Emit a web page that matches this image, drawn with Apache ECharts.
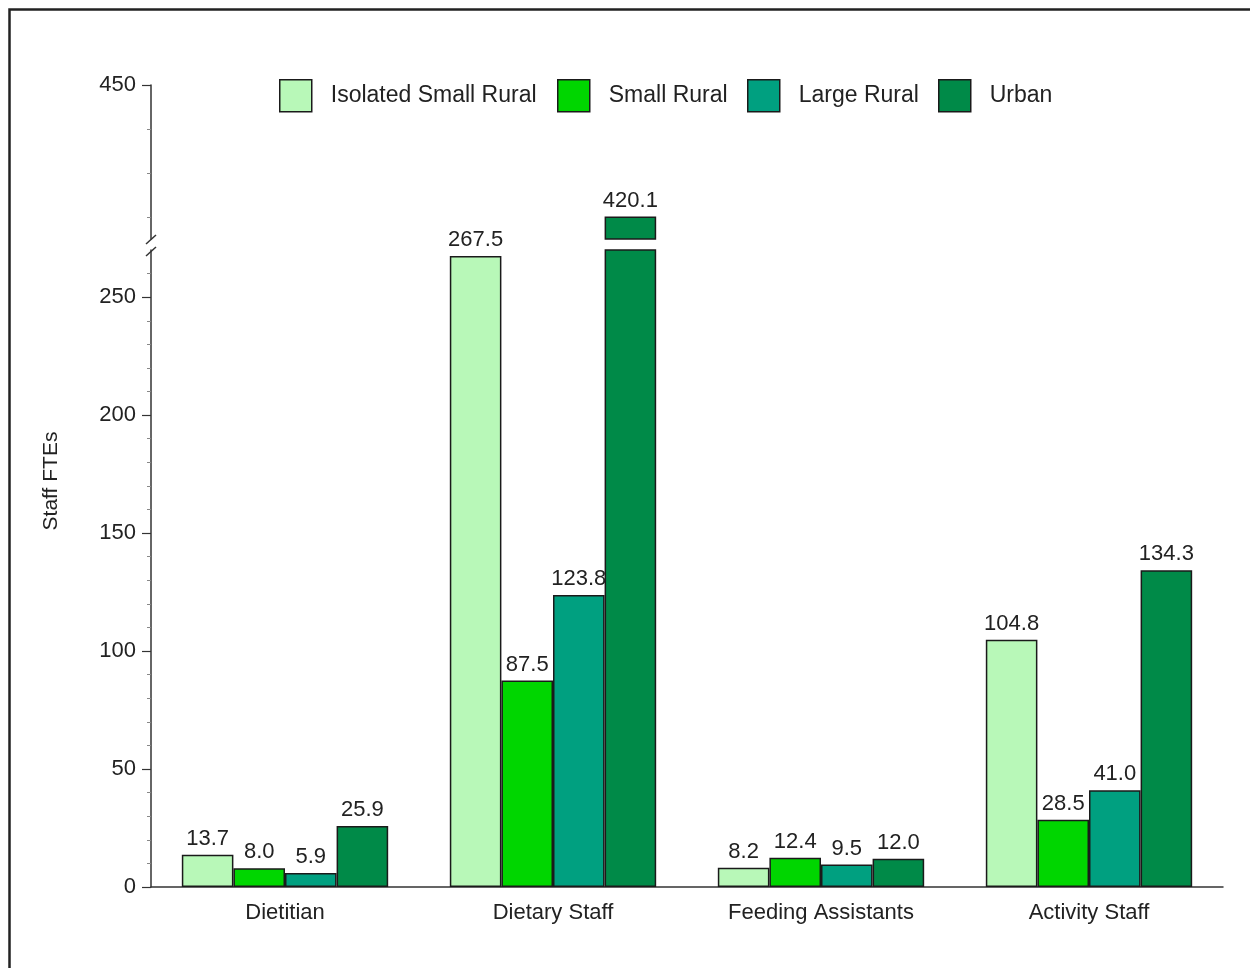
<!DOCTYPE html>
<html>
<head>
<meta charset="utf-8">
<script src="https://cdn.jsdelivr.net/npm/echarts@6/dist/echarts.min.js"></script>
<style>
html,body{margin:0;padding:0;background:#fff;}
#chart{width:1250px;height:968px;}
</style>
</head>
<body>
<div id="chart"></div>
<script>
// ---- data ----
const categories = ['Dietitian', 'Dietary Staff', 'Feeding Assistants', 'Activity Staff'];
const seriesNames = ['Isolated Small Rural', 'Small Rural', 'Large Rural', 'Urban'];
const isolatedSmallRural = [13.7, 267.5, 8.2, 104.8];
const smallRural = [8.0, 87.5, 12.4, 28.5];
const largeRural = [5.9, 123.8, 9.5, 41.0];
const urban = [25.9, 420.1, 12.0, 134.3];
// axis segments (broken axis)
const lowerMin = 0, lowerMax = 270;
const upperMin = 415, upperMax = 450;
const lowerMajorTicks = [0, 50, 100, 150, 200, 250];
const lowerMinorTicks = [10, 20, 30, 40, 60, 70, 80, 90, 110, 120, 130, 140, 160, 170, 180, 190, 210, 220, 230, 240, 260];
const upperMajorTicks = [450];
const upperMinorTicks = [420, 430, 440];

const colors = ['#b8f8b8', '#00d600', '#00a080', '#008a48'];
const allValues = [isolatedSmallRural, smallRural, largeRural, urban];

const FONT = 'Liberation Sans, Arial, sans-serif';
const TXT = '#222';
const AX = '#333';

const chart = echarts.init(document.getElementById('chart'), null, {renderer: 'canvas'});

const gridLeft = 151, gridRight = 27;
const series = [];
allValues.forEach((vals, i) => {
  // lower segment
  series.push({
    type: 'bar', name: seriesNames[i], xAxisIndex: 1, yAxisIndex: 2,
    barGap: '0%', barCategoryGap: '23%',
    itemStyle: {color: colors[i], borderColor: '#1a1a1a', borderWidth: 1.5},
    label: {show: true, position: 'top', distance: 5, color: TXT, fontSize: 22, fontFamily: FONT,
      formatter: p => p.value.toFixed(1)},
    data: vals.map(v => v > lowerMax ? {value: v, label: {show: false}} : v)
  });
  // upper segment
  series.push({
    type: 'bar', name: seriesNames[i], xAxisIndex: 0, yAxisIndex: 0,
    barGap: '0%', barCategoryGap: '23%',
    itemStyle: {color: colors[i], borderColor: '#1a1a1a', borderWidth: 1.5},
    label: {show: true, position: 'top', distance: 5, color: TXT, fontSize: 22, fontFamily: FONT,
      formatter: p => p.value.toFixed(1)},
    data: vals.slice()
  });
});

const legendLefts = [279, 557, 747, 938];
const legends = seriesNames.map((n, i) => ({
  data: [{name: n, icon: 'rect'}], left: legendLefts[i], top: 79, padding: 0,
  itemWidth: 32, itemHeight: 32, selectedMode: false,
  itemStyle: {borderColor: '#1a1a1a', borderWidth: 1.5},
  textStyle: {fontSize: 23, fontFamily: FONT, color: TXT, padding: [0, 0, 0, 14]}
}));

const option = {
  animation: false,
  backgroundColor: '#fff',
  legend: legends,
  grid: [
    {left: gridLeft, right: gridRight, top: 85, height: 154},
    {left: gridLeft, right: gridRight, top: 250, height: 637}
  ],
  xAxis: [
    {type: 'category', data: categories, gridIndex: 0, show: false},
    {type: 'category', data: categories, gridIndex: 1,
      axisLine: {lineStyle: {color: AX, width: 1.5}},
      axisTick: {show: false},
      axisLabel: {fontSize: 22, fontFamily: FONT, color: TXT, margin: 15}}
  ],
  yAxis: [
    {type: 'value', gridIndex: 0, min: upperMin, max: upperMax,
      axisLine: {show: true, lineStyle: {color: AX, width: 1.5}},
      axisTick: {show: true, length: 9, lineStyle: {color: AX, width: 1.2}, customValues: upperMajorTicks},
      axisLabel: {fontSize: 22, fontFamily: FONT, color: TXT, margin: 15, customValues: upperMajorTicks},
      splitLine: {show: false}},
    {type: 'value', gridIndex: 0, min: upperMin, max: upperMax, position: 'left', offset: 0,
      axisLine: {show: false},
      axisTick: {show: true, length: 4, lineStyle: {color: '#888', width: 1}, customValues: upperMinorTicks},
      axisLabel: {show: false},
      splitLine: {show: false}},
    {type: 'value', gridIndex: 1, min: lowerMin, max: lowerMax,
      axisLine: {show: true, lineStyle: {color: AX, width: 1.5}},
      axisTick: {show: true, length: 9, lineStyle: {color: AX, width: 1.2}, customValues: lowerMajorTicks},
      axisLabel: {fontSize: 22, fontFamily: FONT, color: TXT, margin: 15, customValues: lowerMajorTicks},
      splitLine: {show: false}},
    {type: 'value', gridIndex: 1, min: lowerMin, max: lowerMax, position: 'left', offset: 0,
      axisLine: {show: false},
      axisTick: {show: true, length: 4, lineStyle: {color: '#888', width: 1}, customValues: lowerMinorTicks},
      axisLabel: {show: false},
      splitLine: {show: false}}
  ],
  graphic: [
    {type: 'rect', left: 7, top: 7, z: 100, silent: true,
      shape: {x: 0, y: 0, width: 1300, height: 1000},
      style: {fill: 'none', stroke: '#222', lineWidth: 2.5}},
    {type: 'text', x: 51, y: 481, rotation: Math.PI / 2, silent: true,
      style: {text: 'Staff FTEs', fontSize: 21, fontFamily: FONT, fill: TXT, align: 'center', verticalAlign: 'middle'}},
    {type: 'line', silent: true, shape: {x1: 146, y1: 244, x2: 156, y2: 235},
      style: {stroke: AX, lineWidth: 1.5}},
    {type: 'line', silent: true, shape: {x1: 146, y1: 256, x2: 156, y2: 247},
      style: {stroke: AX, lineWidth: 1.5}}
  ],
  series: series
};
chart.setOption(option);
</script>
</body>
</html>
